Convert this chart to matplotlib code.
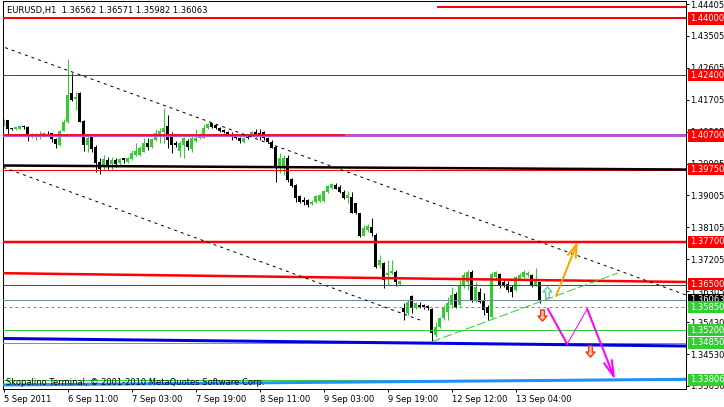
import matplotlib
matplotlib.use("Agg")
import matplotlib.pyplot as plt
from matplotlib.path import Path
from matplotlib.transforms import blended_transform_factory
import numpy as np

plt.rcParams.update({
    "font.family": "DejaVu Sans",
    "font.size": 6,
})

BULL = "#32CD32"
BEAR = "#000000"

# EURUSD H1 candles, 5 Sep - 13 Sep 2011
opens = [
    1.4097, 1.4112, 1.4089, 1.4087, 1.4088, 1.4095, 1.4094, 1.4068, 1.4069, 1.4069,
    1.4069, 1.4075, 1.4076, 1.4060, 1.4043, 1.4082, 1.4107, 1.4189, 1.4173, 1.4189,
    1.4110, 1.4043, 1.4068, 1.4038, 1.3996, 1.3986, 1.4000, 1.3989, 1.4000, 1.3991,
    1.4006, 1.3994, 1.4002, 1.4015, 1.4015, 1.4024, 1.4049, 1.4037, 1.4057, 1.4071,
    1.4079, 1.4096, 1.4066, 1.4049, 1.4026, 1.4044, 1.4054, 1.4031, 1.4054, 1.4063,
    1.4063, 1.4090, 1.4104, 1.4099, 1.4092, 1.4085, 1.4080, 1.4075, 1.4069, 1.4063,
    1.4050, 1.4071, 1.4069, 1.4079, 1.4076, 1.4079, 1.4063, 1.4052, 1.4038, 1.3977,
    1.3982, 1.4005, 1.3946, 1.3930, 1.3899, 1.3888, 1.3888, 1.3877, 1.3881, 1.3885,
    1.3885, 1.3911, 1.3922, 1.3930, 1.3925, 1.3911, 1.3894, 1.3897, 1.3878, 1.3850,
    1.3787, 1.3803, 1.3811, 1.3789, 1.3704, 1.3709, 1.3676, 1.3681, 1.3685, 1.3652,
    1.3582, 1.3568, 1.3617, 1.3582, 1.3591, 1.3590, 1.3589, 1.3579, 1.3507, 1.3530,
    1.3554, 1.3573, 1.3591, 1.3622, 1.3591, 1.3648, 1.3657, 1.3685, 1.3606, 1.3629,
    1.3606, 1.3587, 1.3558, 1.3671, 1.3680, 1.3657, 1.3652, 1.3643, 1.3634, 1.3664,
    1.3671, 1.3675, 1.3676, 1.3648, 1.36562,
]
highs = [
    1.4116, 1.4113, 1.4091, 1.4094, 1.4098, 1.4099, 1.4095, 1.4076, 1.4076, 1.4082,
    1.4079, 1.4081, 1.4078, 1.4063, 1.4085, 1.4115, 1.4285, 1.4247, 1.4192, 1.4192,
    1.4113, 1.4071, 1.4071, 1.4043, 1.4006, 1.4015, 1.4009, 1.4009, 1.4006, 1.4006,
    1.4007, 1.4009, 1.4029, 1.4047, 1.4040, 1.4062, 1.4063, 1.4063, 1.4088, 1.4091,
    1.4146, 1.4128, 1.4079, 1.4054, 1.4054, 1.4066, 1.4060, 1.4068, 1.4088, 1.4076,
    1.4101, 1.4105, 1.4106, 1.4100, 1.4094, 1.4088, 1.4082, 1.4079, 1.4074, 1.4065,
    1.4065, 1.4072, 1.4081, 1.4088, 1.4088, 1.4082, 1.4065, 1.4057, 1.4040, 1.4019,
    1.4015, 1.4015, 1.3950, 1.3933, 1.3902, 1.3897, 1.3891, 1.3888, 1.3902, 1.3905,
    1.3916, 1.3930, 1.3936, 1.3936, 1.3930, 1.3916, 1.3913, 1.3911, 1.3879, 1.3851,
    1.3817, 1.3819, 1.3836, 1.3795, 1.3732, 1.3713, 1.3718, 1.3718, 1.3690, 1.3662,
    1.3596, 1.3606, 1.3620, 1.3600, 1.3601, 1.3594, 1.3591, 1.3583, 1.3544, 1.3558,
    1.3591, 1.3615, 1.3643, 1.3629, 1.3662, 1.3685, 1.3690, 1.3690, 1.3657, 1.3639,
    1.3624, 1.3591, 1.3685, 1.3687, 1.3681, 1.3662, 1.3659, 1.3648, 1.3673, 1.3681,
    1.3690, 1.3687, 1.3680, 1.3695, 1.36571,
]
lows = [
    1.4096, 1.4074, 1.4085, 1.4085, 1.4087, 1.4088, 1.4055, 1.4063, 1.4057, 1.4060,
    1.4067, 1.4068, 1.4052, 1.4033, 1.4041, 1.4081, 1.4106, 1.4167, 1.4142, 1.4107,
    1.4025, 1.4024, 1.4023, 1.3967, 1.3961, 1.3972, 1.3975, 1.3972, 1.3981, 1.3986,
    1.3991, 1.3992, 1.4000, 1.4012, 1.4012, 1.4023, 1.4029, 1.4034, 1.4054, 1.4048,
    1.4048, 1.4033, 1.4019, 1.4037, 1.4009, 1.4007, 1.4029, 1.4023, 1.4051, 1.4060,
    1.4063, 1.4088, 1.4092, 1.4088, 1.4079, 1.4078, 1.4068, 1.4057, 1.4060, 1.4047,
    1.4048, 1.4060, 1.4067, 1.4065, 1.4057, 1.4057, 1.4048, 1.4034, 1.3939, 1.3964,
    1.3958, 1.3939, 1.3924, 1.3883, 1.3879, 1.3874, 1.3869, 1.3874, 1.3879, 1.3882,
    1.3882, 1.3907, 1.3919, 1.3919, 1.3907, 1.3891, 1.3878, 1.3851, 1.3848, 1.3784,
    1.3786, 1.3798, 1.3787, 1.3695, 1.3695, 1.3639, 1.3648, 1.3680, 1.3646, 1.3648,
    1.3549, 1.3563, 1.3568, 1.3580, 1.3582, 1.3580, 1.3577, 1.3488, 1.3502, 1.3526,
    1.3549, 1.3549, 1.3582, 1.3582, 1.3587, 1.3639, 1.3634, 1.3601, 1.3601, 1.3596,
    1.3563, 1.3549, 1.3554, 1.3662, 1.3639, 1.3643, 1.3629, 1.3615, 1.3631, 1.3662,
    1.3667, 1.3670, 1.3643, 1.3645, 1.35982,
]
closes = [
    1.4113, 1.4088, 1.4087, 1.4093, 1.4096, 1.4094, 1.4071, 1.4073, 1.4072, 1.4074,
    1.4077, 1.4072, 1.4059, 1.4046, 1.4082, 1.4107, 1.4184, 1.4170, 1.4178, 1.4108,
    1.4043, 1.4062, 1.4031, 1.3991, 1.3975, 1.4002, 1.3986, 1.4000, 1.3989, 1.4002,
    1.4000, 1.4005, 1.4021, 1.4026, 1.4033, 1.4049, 1.4037, 1.4060, 1.4077, 1.4082,
    1.4092, 1.4057, 1.4044, 1.4043, 1.4047, 1.4062, 1.4037, 1.4062, 1.4063, 1.4074,
    1.4090, 1.4101, 1.4094, 1.4090, 1.4082, 1.4080, 1.4071, 1.4068, 1.4063, 1.4054,
    1.4063, 1.4062, 1.4079, 1.4071, 1.4068, 1.4063, 1.4050, 1.4035, 1.3982, 1.4005,
    1.4005, 1.3944, 1.3927, 1.3893, 1.3881, 1.3882, 1.3874, 1.3883, 1.3899, 1.3902,
    1.3913, 1.3927, 1.3932, 1.3920, 1.3909, 1.3894, 1.3902, 1.3852, 1.3850, 1.3787,
    1.3809, 1.3813, 1.3794, 1.3698, 1.3718, 1.3662, 1.3683, 1.3687, 1.3657, 1.3659,
    1.3573, 1.3601, 1.3582, 1.3596, 1.3587, 1.3586, 1.3582, 1.3512, 1.3530, 1.3554,
    1.3582, 1.3596, 1.3620, 1.3587, 1.3648, 1.3676, 1.3685, 1.3606, 1.3643, 1.3601,
    1.3577, 1.3568, 1.3680, 1.3684, 1.3648, 1.3648, 1.3634, 1.3629, 1.3671, 1.3676,
    1.3685, 1.3681, 1.3648, 1.3666, 1.36063,
]

time_ticks = [0, 16, 32, 48, 64, 80, 96, 112, 128]
time_labels = ["5 Sep 2011", "6 Sep 11:00", "7 Sep 03:00", "7 Sep 19:00", "8 Sep 11:00",
               "9 Sep 03:00", "9 Sep 19:00", "12 Sep 12:00", "13 Sep 04:00"]
price_ticks = [1.44405, 1.43505, 1.42605, 1.41705, 1.40805, 1.39905, 1.39005,
               1.38105, 1.37205, 1.36305, 1.35430, 1.34530, 1.33630]

# price levels shown as coloured tags on the scale
level_prices = [1.44000, 1.42400, 1.40700, 1.39750, 1.37700, 1.36500,
                1.36063, 1.35850, 1.35200, 1.34850, 1.33806]
level_tag_colors = ["#FF0000"] * 6 + ["#000000"] + [BULL] * 4

# trend lines: (bar0, price0, bar1, price1)
channel_top = (0.4, 1.43175, 170.6, 1.36196)
channel_bottom = (-0.05, 1.39798, 104.1, 1.35491)
support_up = (107.1, 1.34879, 153.6, 1.36817)
black_level = (-0.1, 1.39849, 170.6, 1.39736)
red_level = (-0.1, 1.36811, 170.6, 1.36563)
blue_level = (-0.1, 1.34969, 170.6, 1.34757)
light_blue_level = (-0.1, 1.33657, 170.6, 1.33818)
top_red = (108.4, 1.44330, 170.6, 1.44330)

# forecast paths
orange_path = ([138.1, 143.6], [1.36168, 1.37719])
magenta_bars = [136.1, 140.9, 145.9, 152.9]
magenta_prices = [1.35801, 1.34814, 1.35801, 1.33798]
up_mark = (135.9, 1.36267)
down_marks = [(134.5, 1.35623), (146.5, 1.34608)]

PX = 0.72  # one pixel in points

fig = plt.figure(figsize=(7.24, 4.07), dpi=100)
ax = fig.add_axes([3 / 724, 18 / 407, 683 / 724, 388 / 407])
ax.set_xlim(-0.125, 170.6)
ax.set_ylim(1.33544, 1.44490)

# candles
x = np.arange(len(opens))
o = np.array(opens); h = np.array(highs); l = np.array(lows); c = np.array(closes)
cols = np.where(c >= o, BULL, BEAR)
ax.vlines(x, l, h, colors=cols, lw=PX, zorder=2)
body = np.maximum(np.abs(c - o), 0.00028)
ax.bar(x, body, bottom=np.minimum(o, c), width=0.72, color=cols, linewidth=0, zorder=2)

# horizontal levels
ax.axhline(1.44000, color="#FF0000", lw=2 * PX, zorder=3)
ax.axhline(1.42400, color="#FF0000", lw=PX, zorder=3)
ax.axhline(1.40700, color="#BA55D3", lw=3 * PX, zorder=3)
ax.hlines(1.40715, -0.2, 85.3, color="#FF0000", lw=1.5 * PX, zorder=3)
ax.axhline(1.39720, color="#FF0000", lw=PX, zorder=3)
ax.axhline(1.37700, color="#FF0000", lw=2.5 * PX, zorder=3)
ax.axhline(1.36480, color="#FF0000", lw=PX, zorder=3)
ax.axhline(1.36063, color="#778899", lw=PX, zorder=3)
ax.axhline(1.35850, color=BULL, lw=PX, ls=(0, (3, 3)), zorder=3)
ax.axhline(1.35200, color=BULL, lw=PX, zorder=3)
ax.axhline(1.34850, color=BULL, lw=PX, zorder=3)
ax.axhline(1.33790, color=BULL, lw=PX, zorder=3)

for (b0, p0, b1, p1), col, w in [(black_level, "#000000", 2.5), (red_level, "#FF0000", 2.5),
                                  (blue_level, "#0000E0", 3), (light_blue_level, "#1E90FF", 3),
                                  (top_red, "#FF0000", 2)]:
    ax.plot([b0, b1], [p0, p1], color=col, lw=w * PX, solid_capstyle="butt", zorder=3)

for (b0, p0, b1, p1) in [channel_top, channel_bottom]:
    ax.plot([b0, b1], [p0, p1], color="#000000", lw=PX, ls=(0, (3, 4)), zorder=3)
b0, p0, b1, p1 = support_up
ax.plot([b0, b1], [p0, p1], color=BULL, lw=PX, ls=(0, (9, 3)), zorder=3)

# forecast arrows
ax.annotate("", xy=(orange_path[0][1], orange_path[1][1]),
            xytext=(orange_path[0][0], orange_path[1][0]),
            arrowprops=dict(arrowstyle="->,head_length=1.6,head_width=0.5",
                            color="#FFA500", lw=2 * PX, shrinkA=0, shrinkB=0), zorder=4)
ax.plot(magenta_bars[:2], magenta_prices[:2], color="#FF00FF", lw=2 * PX, zorder=4)
ax.plot(magenta_bars[1:3], magenta_prices[1:3], color="#FF00FF", lw=PX, zorder=4)
ax.annotate("", xy=(magenta_bars[3], magenta_prices[3]),
            xytext=(magenta_bars[2], magenta_prices[2]),
            arrowprops=dict(arrowstyle="->,head_length=1.9,head_width=0.5",
                            color="#FF00FF", lw=2 * PX, shrinkA=0, shrinkB=0), zorder=4)

up_arrow = Path([(0, 1), (0.8, 0.1), (0.32, 0.1), (0.32, -1), (-0.32, -1),
                 (-0.32, 0.1), (-0.8, 0.1), (0, 1)],
                [Path.MOVETO] + [Path.LINETO] * 6 + [Path.CLOSEPOLY])
down_arrow = Path([(vx, -vy) for vx, vy in up_arrow.vertices], up_arrow.codes)
ax.plot([up_mark[0]], [up_mark[1]], marker=up_arrow, ms=8, mfc="#FFFFC8",
        mec="#5CC8B8", mew=1.0, ls="none", zorder=5)
for bx, py in down_marks:
    ax.plot([bx], [py], marker=down_arrow, ms=8, mfc="#FFD0C8",
            mec="#FF3000", mew=1.0, ls="none", zorder=5)

# axes styling
for s in ax.spines.values():
    s.set_color("#000000")
    s.set_linewidth(PX)
ax.yaxis.tick_right()
ax.set_yticks(price_ticks)
ax.set_yticklabels([f"{p:.5f}" for p in price_ticks])
ax.tick_params(axis="y", direction="out", length=3 * PX, width=PX, pad=1, labelsize=6)
ax.set_xticks(time_ticks)
ax.set_xticklabels(time_labels, ha="left")
ax.tick_params(axis="x", direction="out", length=3 * PX, width=PX, pad=2, labelsize=6)

tr = blended_transform_factory(ax.transAxes, ax.transData)
for p, col in zip(level_prices, level_tag_colors):
    ax.text(1.006, p, f"{p:.5f}", transform=tr, color="white", va="center", ha="left",
            fontsize=6, clip_on=False, zorder=10,
            bbox=dict(boxstyle="square,pad=0.2", fc=col, ec="none"))

fig.text(7 / 724, 1 - 10.5 / 407, "EURUSD,H1  1.36562 1.36571 1.35982 1.36063",
         ha="left", va="center", fontsize=6)
fig.text(6 / 724, 1 - 382.5 / 407, "Skopalino Terminal, \u00a9 2001-2010 MetaQuotes Software Corp.",
         ha="left", va="center", fontsize=6, zorder=10)

fig.savefig("out.png", dpi=100)
